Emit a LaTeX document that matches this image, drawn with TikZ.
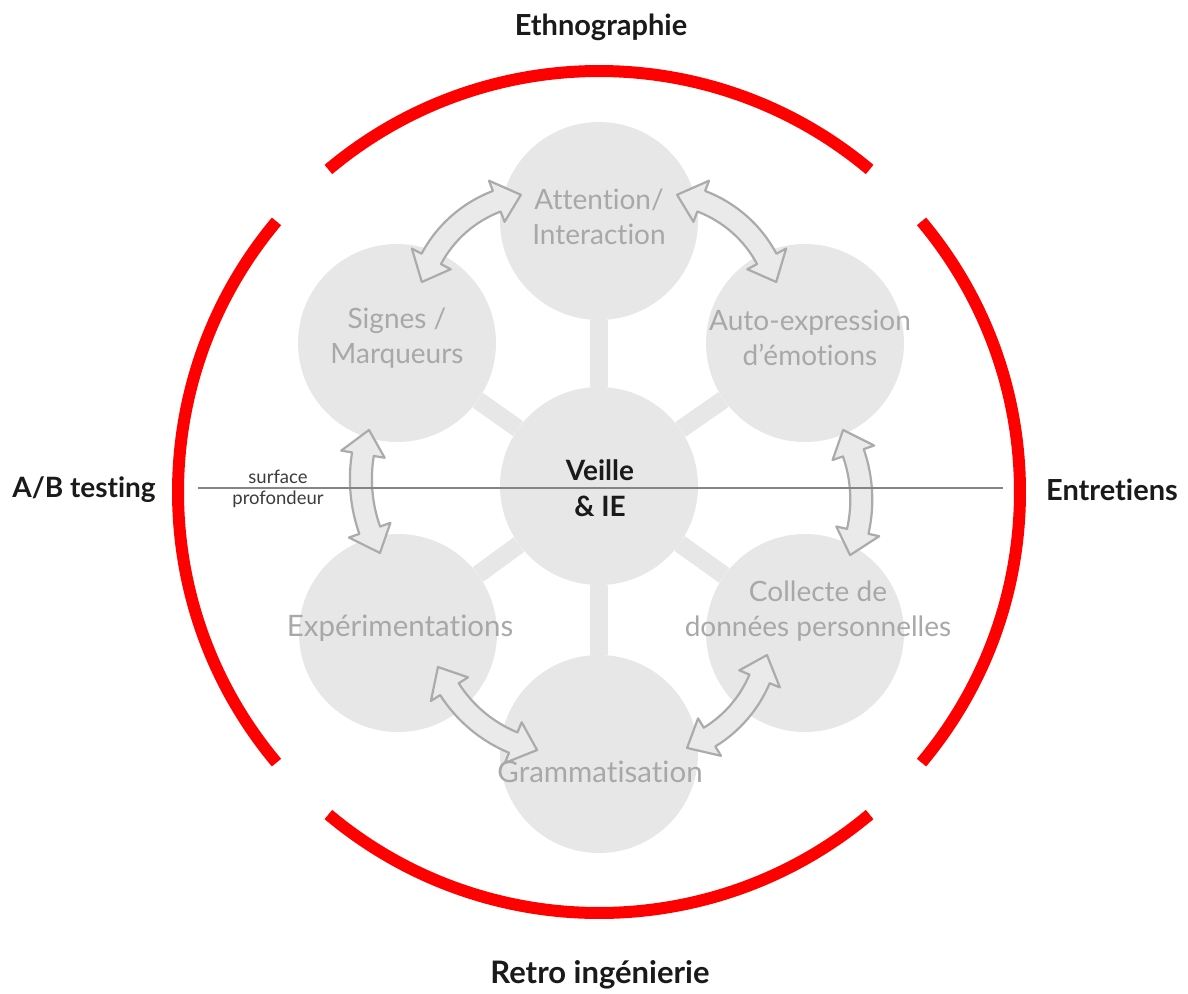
\documentclass[tikz,border=0pt]{standalone}
\usepackage{fontspec}
\setmainfont{Lato}[Ligatures={NoCommon,NoContextual},Contextuals=NoAlternate]
\usetikzlibrary{calc}
\definecolor{circ}{HTML}{E7E7E7}
\definecolor{ctext}{HTML}{A8A8A8}
\definecolor{arrfill}{HTML}{EAEAEA}
\definecolor{arredge}{HTML}{ABABAB}
\definecolor{sepline}{HTML}{858585}
\definecolor{ringred}{HTML}{FF0000}
\definecolor{labtext}{HTML}{1A1A1A}
\tikzset{
  bubble/.style={circle,fill=circ,minimum size=198pt,inner sep=0pt},
  spoke/.style={draw=circ,line width=18pt},
  ring/.style={draw=ringred,line width=12pt},
  arrowshape/.style={fill=arrfill,draw=arredge,line width=2.2pt,line join=round},
  ctxt/.style={text=ctext,font=\fontsize{28}{35}\selectfont,align=center},
  side/.style={text=labtext,font=\bfseries\fontsize{29}{34}\selectfont},
  small/.style={text=labtext!85,font=\fontsize{18.5}{20}\selectfont}
}
\newcommand\blockarrow[5]{%
 \pgfmathsetmacro\dA{25/#3*57.296}%
 \pgfmathsetmacro\bA{#4+\dA}%
 \pgfmathsetmacro\eA{#5-\dA}%
 \begin{scope}[shift={(#1,#2)}]
 \path[arrowshape] (#4:#3) -- (\bA:{#3+22}) -- (\bA:{#3+11})
   arc[start angle=\bA,end angle=\eA,radius=#3+11] -- (\eA:{#3+22}) -- (#5:#3)
   -- (\eA:{#3-22}) -- (\eA:{#3-11})
   arc[start angle=\eA,end angle=\bA,radius=#3-11] -- (\bA:{#3-22}) -- cycle;
 \end{scope}}
\begin{document}
\begin{tikzpicture}[x=1pt,y=-1pt]
\useasboundingbox (0,0) rectangle (1188,993);
% outer red ring segments
\coordinate (rc) at (599,492);
\begin{scope}[shift={(rc)}]
\draw[ring] (-130:421) arc[start angle=-130,end angle=-50,radius=421];
\draw[ring] (-40:421) arc[start angle=-40,end angle=40,radius=421];
\draw[ring] (50:421) arc[start angle=50,end angle=130,radius=421];
\draw[ring] (140:421) arc[start angle=140,end angle=220,radius=421];
\end{scope}
% bubbles
\node[bubble] (veille) at (599,486) {};
\node[bubble] (att) at (599,221) {};
\node[bubble] (sig) at (397,343) {};
\node[bubble] (auto) at (805,343) {};
\node[bubble] (exp) at (398,633) {};
\node[bubble] (col) at (805,633) {};
\node[bubble] (gram) at (599,754) {};
% spokes
\foreach \t in {att,sig,auto,exp,col,gram} \draw[spoke] (veille) -- (\t);
% curved double arrows
\blockarrow{540.7}{317.2}{124}{196.5}{260.8}
\blockarrow{657.3}{317.2}{124}{-80.8}{-16.5}
\blockarrow{513.9}{479}{153}{151.1}{198.7}
\blockarrow{718.9}{499.7}{142.4}{-29.3}{22.9}
\blockarrow{566.1}{614.7}{138.4}{102.1}{157.8}
\blockarrow{643.9}{630}{125.6}{11.5}{69.9}
% separation line
\coordinate (hl) at (198,488);
\coordinate (hr) at (1003,488);
\draw[draw=sepline,line width=2pt] (hl) -- (hr);
\node[small] (surf) at (278,477) {surface};
\node[small] (prof) at (278,499) {profondeur};
% bubble texts
\node[ctxt] (tatt) at (599,217) {Attention/\\Interaction};
\node[ctxt] (tsig) at (397,338) {Signes /\\Marqueurs};
\node[ctxt] (tauto) at (810,338) {Auto-expression\\d'émotions};
\node[ctxt,font=\fontsize{29.5}{35}\selectfont] (texp) at (400,628) {Expérimentations};
\node[ctxt] (tcol) at (818,611) {Collecte de\\données personnelles};
\node[ctxt,font=\fontsize{29.5}{35}\selectfont] (tgram) at (600,772) {Grammatisation};
\node[side,align=center,font=\bfseries\fontsize{28}{36}\selectfont] (tveille) at (600,488) {Veille\\\& IE};
% outer labels
\node[side] (eth) at (601,27) {Ethnographie};
\node[side,font=\bfseries\fontsize{28}{34}\selectfont] (ab) at (84,490) {A/B testing};
\node[side] (ent) at (1112,490) {Entretiens};
\node[side,font=\bfseries\fontsize{31}{34}\selectfont] (retro) at (600,975) {Retro ingénierie};
\end{tikzpicture}
\end{document}
